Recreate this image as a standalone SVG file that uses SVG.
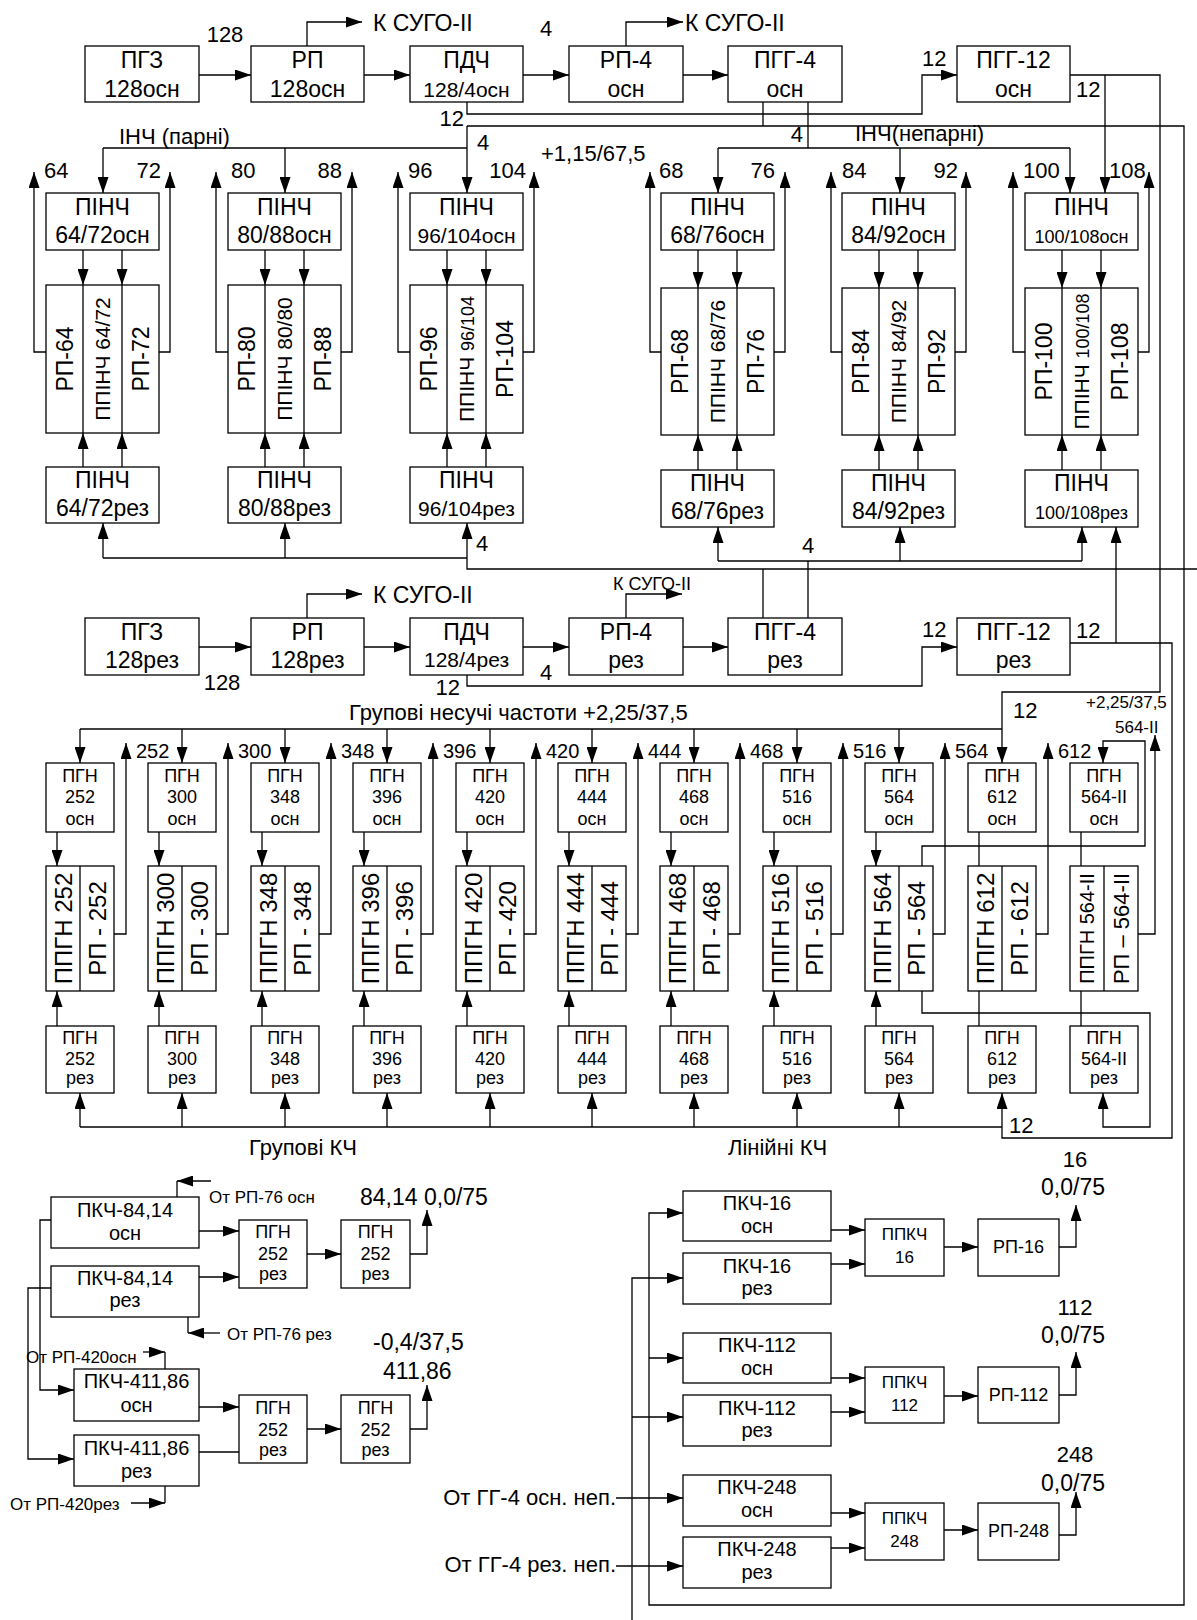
<svg xmlns="http://www.w3.org/2000/svg" width="1197" height="1620" viewBox="0 0 1197 1620">
<defs>
<marker id="ah" markerWidth="16" markerHeight="11" refX="16" refY="5.5" orient="auto" markerUnits="userSpaceOnUse"><path d="M0,0 L16,5.5 L0,11 z" fill="#000"/></marker>
<style>
.b{fill:#fff;stroke:#000;stroke-width:1.3}
.l{fill:none;stroke:#000;stroke-width:1.3}
.l path{fill:none;stroke:#000;stroke-width:1.3}
.a{marker-end:url(#ah)}
text{font-family:"Liberation Sans",Arial,sans-serif;fill:#000}
.m{text-anchor:middle}
.e{text-anchor:end}
.f15{font-size:15px}.f17{font-size:17px}.f18{font-size:18px}.f20{font-size:20px}.f21{font-size:21px}.f22{font-size:22px}.f23{font-size:23px}.f24{font-size:24px}
</style>
</defs>
<rect width="1197" height="1620" fill="#fff"/>

<!-- ===== connectors ===== -->
<g id="connectors" class="l">
<path class="a" d="M199,75H251"/><path class="a" d="M364,75H410"/><path class="a" d="M523,75H569"/><path class="a" d="M683,75H728"/>
<path class="a" d="M307,46V22H362"/><path class="a" d="M626,46V22H683"/>
<path class="a" d="M467,102V114H922V75H957"/>
<path class="a" d="M467,126H1184V1605H649V1213H683"/>
<path d="M763,102V126"/><path d="M808,102V148"/>
<path class="a" d="M467,126V193"/>
<path d="M103,148H467"/><path class="a" d="M103,148V193"/><path class="a" d="M285,148V193"/>
<path d="M718,148H1070"/><path class="a" d="M718,148V193"/><path class="a" d="M900,148V193"/><path class="a" d="M1070,148V193"/>
<path class="a" d="M1070,75H1160V692H1002V763"/>
<path class="a" d="M1105,75V193"/>
<path class="a" d="M83,250V285"/><path class="a" d="M122,250V285"/><path class="a" d="M83,467V433"/><path class="a" d="M122,467V433"/>
<path class="a" d="M46,352H34V172"/><path class="a" d="M159,352H170V172"/>
<path class="a" d="M265,250V285"/><path class="a" d="M304,250V285"/><path class="a" d="M265,467V433"/><path class="a" d="M304,467V433"/>
<path class="a" d="M228,352H216V172"/><path class="a" d="M341,352H352V172"/>
<path class="a" d="M447,250V285"/><path class="a" d="M486,250V285"/><path class="a" d="M447,467V433"/><path class="a" d="M486,467V433"/>
<path class="a" d="M410,352H398V172"/><path class="a" d="M523,352H534V172"/>
<path class="a" d="M698,250V288"/><path class="a" d="M737,250V288"/><path class="a" d="M698,470V435"/><path class="a" d="M737,470V435"/>
<path class="a" d="M661,352H650V172"/><path class="a" d="M774,352H785V172"/>
<path class="a" d="M879,250V288"/><path class="a" d="M918,250V288"/><path class="a" d="M879,470V435"/><path class="a" d="M918,470V435"/>
<path class="a" d="M842,352H831V172"/><path class="a" d="M955,352H966V172"/>
<path class="a" d="M1062,250V288"/><path class="a" d="M1101,250V288"/><path class="a" d="M1062,470V435"/><path class="a" d="M1101,470V435"/>
<path class="a" d="M1025,352H1013V172"/><path class="a" d="M1138,352H1149V172"/>
<path d="M103,558H467"/><path class="a" d="M103,558V523"/><path class="a" d="M285,558V523"/><path class="a" d="M467,558V523"/>
<path d="M467,558V569H1197"/>
<path d="M718,561H1082"/><path class="a" d="M718,561V527"/><path class="a" d="M900,561V527"/><path class="a" d="M1082,561V527"/>
<path d="M808,561V618"/><path d="M763,569V618"/>
<path class="a" d="M1116,643V527"/>
<path class="a" d="M199,647H251"/><path class="a" d="M364,647H410"/><path class="a" d="M523,647H569"/><path class="a" d="M683,647H728"/>
<path class="a" d="M307,618V594H362"/><path class="a" d="M626,618V594H682"/>
<path class="a" d="M467,675V686H922V647H957"/>
<path d="M1070,643H1172V1138H1002V1127"/>
<path d="M80,729H1002"/>
<path class="a" d="M80,729V763"/><path class="a" d="M182,729V763"/><path class="a" d="M285,729V763"/><path class="a" d="M387,729V763"/><path class="a" d="M490,729V763"/><path class="a" d="M592,729V763"/><path class="a" d="M694,729V763"/><path class="a" d="M797,729V763"/><path class="a" d="M899,729V763"/>
<path class="a" d="M57,832V866"/><path class="a" d="M159,832V866"/><path class="a" d="M262,832V866"/><path class="a" d="M364,832V866"/><path class="a" d="M467,832V866"/><path class="a" d="M569,832V866"/><path class="a" d="M671,832V866"/><path class="a" d="M774,832V866"/><path class="a" d="M876,832V866"/>
<path d="M979,832V866"/><path d="M1081,832V866"/>
<path class="a" d="M57,1026V991"/><path class="a" d="M159,1026V991"/><path class="a" d="M262,1026V991"/><path class="a" d="M364,1026V991"/><path class="a" d="M467,1026V991"/><path class="a" d="M569,1026V991"/><path class="a" d="M671,1026V991"/><path class="a" d="M774,1026V991"/><path class="a" d="M876,1026V991"/>
<path d="M979,991V1026"/><path d="M1081,991V1026"/>
<path class="a" d="M114,934H126V743"/><path class="a" d="M216,934H228V743"/><path class="a" d="M319,934H331V743"/><path class="a" d="M421,934H433V743"/><path class="a" d="M524,934H536V743"/><path class="a" d="M626,934H638V743"/><path class="a" d="M728,934H740V743"/><path class="a" d="M831,934H843V743"/><path class="a" d="M933,934H945V743"/><path class="a" d="M1036,934H1048V743"/>
<path class="a" d="M1138,934H1155V735"/>
<path class="a" d="M922,866V846H1145V741H1103V763"/>
<path class="a" d="M922,991V1013H1150V1127H1103V1093"/>
<path d="M80,1127H1002"/>
<path class="a" d="M80,1127V1093"/><path class="a" d="M182,1127V1093"/><path class="a" d="M285,1127V1093"/><path class="a" d="M387,1127V1093"/><path class="a" d="M490,1127V1093"/><path class="a" d="M592,1127V1093"/><path class="a" d="M694,1127V1093"/><path class="a" d="M797,1127V1093"/><path class="a" d="M899,1127V1093"/><path class="a" d="M1002,1127V1093"/>
<path class="a" d="M199,1231H239"/><path class="a" d="M199,1277H239"/><path class="a" d="M307,1254H341"/>
<path class="a" d="M410,1254H427V1210"/>
<path class="a" d="M211,1181H177"/><path d="M177,1181V1197"/>
<path class="a" d="M220,1333H188"/><path d="M188,1317V1333"/>
<path class="a" d="M51,1220H40V1390H74"/>
<path class="a" d="M51,1288H28V1459H74"/>
<path class="a" d="M143,1352H165"/><path d="M165,1352V1369"/>
<path class="a" d="M199,1407H239"/><path d="M199,1452H239"/>
<path class="a" d="M307,1429H341"/>
<path class="a" d="M410,1429H427V1385"/>
<path class="a" d="M131,1503H165"/><path d="M165,1503V1486"/>
<path class="a" d="M649,1358H683"/>
<path class="a" d="M632,1620V1278H683"/><path class="a" d="M632,1417H683"/>
<path class="a" d="M616,1498H683"/><path class="a" d="M616,1566H683"/>
<path class="a" d="M831,1230H865"/><path class="a" d="M831,1264H865"/><path class="a" d="M944,1247H978"/><path class="a" d="M1059,1247H1076V1205"/>
<path class="a" d="M831,1378H865"/><path class="a" d="M831,1412H865"/><path class="a" d="M944,1396H978"/><path class="a" d="M1059,1395H1076V1352"/>
<path class="a" d="M831,1513H865"/><path class="a" d="M831,1548H865"/><path class="a" d="M944,1530H978"/><path class="a" d="M1059,1535H1076V1492"/>
</g>

<!-- ===== labels ===== -->
<g id="labels">
<text class="f23" x="373" y="31">К СУГО-ІІ</text>
<text class="f23" x="685" y="31">К СУГО-ІІ</text>
<text class="m f22" x="225" y="42">128</text>
<text class="m f22" x="546" y="36">4</text>
<text class="e f22" x="464" y="126">12</text>
<text class="f22" x="922" y="66">12</text>
<text class="f22" x="1076" y="97">12</text>
<text class="f22" x="477" y="150">4</text>
<text class="e f22" x="803" y="142">4</text>
<text class="f22" x="119" y="144">ІНЧ (парні)</text>
<text class="f22" x="855" y="141">ІНЧ(непарні)</text>
<text class="f22" x="541" y="161">+1,15/67,5</text>
<text class="f22" x="44" y="178">64</text><text class="e f22" x="161" y="178">72</text>
<text class="f22" x="231" y="178">80</text><text class="e f22" x="342" y="178">88</text>
<text class="f22" x="408" y="178">96</text><text class="e f22" x="526" y="178">104</text>
<text class="f22" x="659" y="178">68</text><text class="e f22" x="775" y="178">76</text>
<text class="f22" x="842" y="178">84</text><text class="e f22" x="958" y="178">92</text>
<text class="f22" x="1023" y="178">100</text><text class="f22" x="1109" y="178">108</text>
<text class="f22" x="476" y="551">4</text>
<text class="f22" x="802" y="553">4</text>
<text class="f23" x="373" y="603">К СУГО-ІІ</text>
<text class="f18" x="613" y="590">К СУГО-ІІ</text>
<text class="m f22" x="222" y="690">128</text>
<text class="m f22" x="546" y="680">4</text>
<text class="e f22" x="460" y="695">12</text>
<text class="f22" x="922" y="637">12</text>
<text class="f22" x="1076" y="638">12</text>
<text class="f22" x="349" y="720">Групові несучі частоти +2,25/37,5</text>
<text class="f22" x="1013" y="718">12</text>
<text class="f17" x="1086" y="708">+2,25/37,5</text>
<text class="f17" x="1115" y="733">564-ІІ</text>
<text class="f20" x="136" y="758">252</text><text class="f20" x="238" y="758">300</text><text class="f20" x="341" y="758">348</text><text class="f20" x="443" y="758">396</text><text class="f20" x="546" y="758">420</text><text class="f20" x="648" y="758">444</text><text class="f20" x="750" y="758">468</text><text class="f20" x="853" y="758">516</text><text class="f20" x="955" y="758">564</text><text class="f20" x="1058" y="758">612</text>
<text class="f22" x="1009" y="1133">12</text>
<text class="f22" x="249" y="1155">Групові КЧ</text>
<text class="f22" x="728" y="1155">Лінійні КЧ</text>
<text class="f23" x="360" y="1205">84,14 0,0/75</text>
<text class="f17" x="209" y="1203">От РП-76 осн</text>
<text class="f17" x="227" y="1340">От РП-76 рез</text>
<text class="f17" x="26" y="1363">От РП-420осн</text>
<text class="f17" x="10" y="1510">От РП-420рез</text>
<text class="f23" x="373" y="1350">-0,4/37,5</text>
<text class="f23" x="383" y="1379">411,86</text>
<text class="m f22" x="1075" y="1167">16</text><text class="m f23" x="1073" y="1195">0,0/75</text>
<text class="m f22" x="1075" y="1315">112</text><text class="m f23" x="1073" y="1343">0,0/75</text>
<text class="m f22" x="1075" y="1462">248</text><text class="m f23" x="1073" y="1491">0,0/75</text>
<text class="e f22" x="616" y="1505">От ГГ-4 осн. неп.</text>
<text class="e f22" x="616" y="1572">От ГГ-4 рез. неп.</text>
</g>

<!-- ===== top row (osn) ===== -->
<g id="pgz-osn"><rect class="b" x="85" y="46" width="114" height="56"/><text class="m f23" x="142" y="68">ПГЗ</text><text class="m f23" x="142" y="97">128осн</text></g>
<g id="rp128-osn"><rect class="b" x="251" y="46" width="113" height="56"/><text class="m f23" x="307.5" y="68">РП</text><text class="m f23" x="307.5" y="97">128осн</text></g>
<g id="pdch-osn"><rect class="b" x="410" y="46" width="113" height="56"/><text class="m f23" x="466.5" y="68">ПДЧ</text><text class="m f21" x="466.5" y="97">128/4осн</text></g>
<g id="rp4-osn"><rect class="b" x="569" y="46" width="114" height="56"/><text class="m f23" x="626" y="68">РП-4</text><text class="m f23" x="626" y="97">осн</text></g>
<g id="pgg4-osn"><rect class="b" x="728" y="46" width="114" height="56"/><text class="m f23" x="785" y="68">ПГГ-4</text><text class="m f23" x="785" y="97">осн</text></g>
<g id="pgg12-osn"><rect class="b" x="957" y="46" width="113" height="56"/><text class="m f23" x="1013.5" y="68">ПГГ-12</text><text class="m f23" x="1013.5" y="97">осн</text></g>

<!-- ===== PINCH even ===== -->
<g id="pinch-64-72-osn"><rect class="b" x="46" y="193" width="113" height="57"/><text class="m f23" x="102.5" y="215">ПІНЧ</text><text class="m f23" x="102.5" y="243">64/72осн</text></g>
<g id="pinch-64-72"><rect class="b" x="46" y="285" width="113" height="148"/><path class="l" d="M83,285V433M122,285V433"/>
<text class="m f23" transform="translate(72.7,359) rotate(-90)">РП-64</text><text class="m f21" transform="translate(110,359) rotate(-90)">ППІНЧ 64/72</text><text class="m f23" transform="translate(148.7,359) rotate(-90)">РП-72</text></g>
<g id="pinch-64-72-rez"><rect class="b" x="46" y="467" width="113" height="56"/><text class="m f23" x="102.5" y="488">ПІНЧ</text><text class="m f23" x="102.5" y="516">64/72рез</text></g>

<g id="pinch-80-88-osn"><rect class="b" x="228" y="193" width="113" height="57"/><text class="m f23" x="284.5" y="215">ПІНЧ</text><text class="m f23" x="284.5" y="243">80/88осн</text></g>
<g id="pinch-80-88"><rect class="b" x="228" y="285" width="113" height="148"/><path class="l" d="M265,285V433M304,285V433"/>
<text class="m f23" transform="translate(254.7,359) rotate(-90)">РП-80</text><text class="m f21" transform="translate(292,359) rotate(-90)">ППІНЧ 80/80</text><text class="m f23" transform="translate(330.7,359) rotate(-90)">РП-88</text></g>
<g id="pinch-80-88-rez"><rect class="b" x="228" y="467" width="113" height="56"/><text class="m f23" x="284.5" y="488">ПІНЧ</text><text class="m f23" x="284.5" y="516">80/88рез</text></g>

<g id="pinch-96-104-osn"><rect class="b" x="410" y="193" width="113" height="57"/><text class="m f23" x="466.5" y="215">ПІНЧ</text><text class="m f21" x="466.5" y="243">96/104осн</text></g>
<g id="pinch-96-104"><rect class="b" x="410" y="285" width="113" height="148"/><path class="l" d="M447,285V433M486,285V433"/>
<text class="m f23" transform="translate(436.7,359) rotate(-90)">РП-96</text><text class="m f21" transform="translate(474,359) rotate(-90)">ППІНЧ <tspan class="f18">96/104</tspan></text><text class="m f23" transform="translate(512.7,359) rotate(-90)">РП-104</text></g>
<g id="pinch-96-104-rez"><rect class="b" x="410" y="467" width="113" height="56"/><text class="m f23" x="466.5" y="488">ПІНЧ</text><text class="m f21" x="466.5" y="516">96/104рез</text></g>

<!-- ===== PINCH odd ===== -->
<g id="pinch-68-76-osn"><rect class="b" x="661" y="193" width="113" height="57"/><text class="m f23" x="717.5" y="215">ПІНЧ</text><text class="m f23" x="717.5" y="243">68/76осн</text></g>
<g id="pinch-68-76"><rect class="b" x="661" y="288" width="113" height="147"/><path class="l" d="M698,288V435M737,288V435"/>
<text class="m f23" transform="translate(688,361.5) rotate(-90)">РП-68</text><text class="m f21" transform="translate(725,361.5) rotate(-90)">ППІНЧ 68/76</text><text class="m f23" transform="translate(764,361.5) rotate(-90)">РП-76</text></g>
<g id="pinch-68-76-rez"><rect class="b" x="661" y="470" width="113" height="57"/><text class="m f23" x="717.5" y="491">ПІНЧ</text><text class="m f23" x="717.5" y="519">68/76рез</text></g>

<g id="pinch-84-92-osn"><rect class="b" x="842" y="193" width="113" height="57"/><text class="m f23" x="898.5" y="215">ПІНЧ</text><text class="m f23" x="898.5" y="243">84/92осн</text></g>
<g id="pinch-84-92"><rect class="b" x="842" y="288" width="113" height="147"/><path class="l" d="M879,288V435M918,288V435"/>
<text class="m f23" transform="translate(869,361.5) rotate(-90)">РП-84</text><text class="m f21" transform="translate(906,361.5) rotate(-90)">ППІНЧ 84/92</text><text class="m f23" transform="translate(945,361.5) rotate(-90)">РП-92</text></g>
<g id="pinch-84-92-rez"><rect class="b" x="842" y="470" width="113" height="57"/><text class="m f23" x="898.5" y="491">ПІНЧ</text><text class="m f23" x="898.5" y="519">84/92рез</text></g>

<g id="pinch-100-108-osn"><rect class="b" x="1025" y="193" width="113" height="57"/><text class="m f23" x="1081.5" y="215">ПІНЧ</text><text class="m f18" x="1081.5" y="243">100/108осн</text></g>
<g id="pinch-100-108"><rect class="b" x="1025" y="288" width="113" height="147"/><path class="l" d="M1062,288V435M1101,288V435"/>
<text class="m f23" transform="translate(1052,361.5) rotate(-90)">РП-100</text><text class="m f21" transform="translate(1089,361.5) rotate(-90)">ППІНЧ <tspan class="f18">100/108</tspan></text><text class="m f23" transform="translate(1128,361.5) rotate(-90)">РП-108</text></g>
<g id="pinch-100-108-rez"><rect class="b" x="1025" y="470" width="113" height="57"/><text class="m f23" x="1081.5" y="491">ПІНЧ</text><text class="m f18" x="1081.5" y="519">100/108рез</text></g>

<!-- ===== reserve row ===== -->
<g id="pgz-rez"><rect class="b" x="85" y="618" width="114" height="57"/><text class="m f23" x="142" y="640">ПГЗ</text><text class="m f23" x="142" y="668">128рез</text></g>
<g id="rp128-rez"><rect class="b" x="251" y="618" width="113" height="57"/><text class="m f23" x="307.5" y="640">РП</text><text class="m f23" x="307.5" y="668">128рез</text></g>
<g id="pdch-rez"><rect class="b" x="410" y="618" width="113" height="57"/><text class="m f23" x="466.5" y="640">ПДЧ</text><text class="m f21" x="466.5" y="667">128/4рез</text></g>
<g id="rp4-rez"><rect class="b" x="569" y="618" width="114" height="57"/><text class="m f23" x="626" y="640">РП-4</text><text class="m f23" x="626" y="668">рез</text></g>
<g id="pgg4-rez"><rect class="b" x="728" y="618" width="114" height="57"/><text class="m f23" x="785" y="640">ПГГ-4</text><text class="m f23" x="785" y="668">рез</text></g>
<g id="pgg12-rez"><rect class="b" x="957" y="618" width="113" height="57"/><text class="m f23" x="1013.5" y="640">ПГГ-12</text><text class="m f23" x="1013.5" y="668">рез</text></g>

<!-- ===== PGN columns ===== -->
<g id="pgn-252-osn"><rect class="b" x="46" y="763" width="68" height="69"/><text class="m f18" x="80" y="782">ПГН</text><text class="m f18" x="80" y="803">252</text><text class="m f18" x="80" y="825">осн</text></g>
<g id="ppgn-252"><rect class="b" x="46" y="866" width="68" height="125"/><path class="l" d="M80,866V991"/><text class="m f24" transform="translate(71.6,928.5) rotate(-90)">ППГН 252</text><text class="m f24" transform="translate(105.6,928.5) rotate(-90)">РП - 252</text></g>
<g id="pgn-252-rez"><rect class="b" x="46" y="1026" width="68" height="67"/><text class="m f18" x="80" y="1044">ПГН</text><text class="m f18" x="80" y="1065">252</text><text class="m f18" x="80" y="1084">рез</text></g>

<g id="pgn-300-osn"><rect class="b" x="148" y="763" width="68" height="69"/><text class="m f18" x="182" y="782">ПГН</text><text class="m f18" x="182" y="803">300</text><text class="m f18" x="182" y="825">осн</text></g>
<g id="ppgn-300"><rect class="b" x="148" y="866" width="68" height="125"/><path class="l" d="M182,866V991"/><text class="m f24" transform="translate(173.6,928.5) rotate(-90)">ППГН 300</text><text class="m f24" transform="translate(207.6,928.5) rotate(-90)">РП - 300</text></g>
<g id="pgn-300-rez"><rect class="b" x="148" y="1026" width="68" height="67"/><text class="m f18" x="182" y="1044">ПГН</text><text class="m f18" x="182" y="1065">300</text><text class="m f18" x="182" y="1084">рез</text></g>

<g id="pgn-348-osn"><rect class="b" x="251" y="763" width="68" height="69"/><text class="m f18" x="285" y="782">ПГН</text><text class="m f18" x="285" y="803">348</text><text class="m f18" x="285" y="825">осн</text></g>
<g id="ppgn-348"><rect class="b" x="251" y="866" width="68" height="125"/><path class="l" d="M285,866V991"/><text class="m f24" transform="translate(276.6,928.5) rotate(-90)">ППГН 348</text><text class="m f24" transform="translate(310.6,928.5) rotate(-90)">РП - 348</text></g>
<g id="pgn-348-rez"><rect class="b" x="251" y="1026" width="68" height="67"/><text class="m f18" x="285" y="1044">ПГН</text><text class="m f18" x="285" y="1065">348</text><text class="m f18" x="285" y="1084">рез</text></g>

<g id="pgn-396-osn"><rect class="b" x="353" y="763" width="68" height="69"/><text class="m f18" x="387" y="782">ПГН</text><text class="m f18" x="387" y="803">396</text><text class="m f18" x="387" y="825">осн</text></g>
<g id="ppgn-396"><rect class="b" x="353" y="866" width="68" height="125"/><path class="l" d="M387,866V991"/><text class="m f24" transform="translate(378.6,928.5) rotate(-90)">ППГН 396</text><text class="m f24" transform="translate(412.6,928.5) rotate(-90)">РП - 396</text></g>
<g id="pgn-396-rez"><rect class="b" x="353" y="1026" width="68" height="67"/><text class="m f18" x="387" y="1044">ПГН</text><text class="m f18" x="387" y="1065">396</text><text class="m f18" x="387" y="1084">рез</text></g>

<g id="pgn-420-osn"><rect class="b" x="456" y="763" width="68" height="69"/><text class="m f18" x="490" y="782">ПГН</text><text class="m f18" x="490" y="803">420</text><text class="m f18" x="490" y="825">осн</text></g>
<g id="ppgn-420"><rect class="b" x="456" y="866" width="68" height="125"/><path class="l" d="M490,866V991"/><text class="m f24" transform="translate(481.6,928.5) rotate(-90)">ППГН 420</text><text class="m f24" transform="translate(515.6,928.5) rotate(-90)">РП - 420</text></g>
<g id="pgn-420-rez"><rect class="b" x="456" y="1026" width="68" height="67"/><text class="m f18" x="490" y="1044">ПГН</text><text class="m f18" x="490" y="1065">420</text><text class="m f18" x="490" y="1084">рез</text></g>

<g id="pgn-444-osn"><rect class="b" x="558" y="763" width="68" height="69"/><text class="m f18" x="592" y="782">ПГН</text><text class="m f18" x="592" y="803">444</text><text class="m f18" x="592" y="825">осн</text></g>
<g id="ppgn-444"><rect class="b" x="558" y="866" width="68" height="125"/><path class="l" d="M592,866V991"/><text class="m f24" transform="translate(583.6,928.5) rotate(-90)">ППГН 444</text><text class="m f24" transform="translate(617.6,928.5) rotate(-90)">РП - 444</text></g>
<g id="pgn-444-rez"><rect class="b" x="558" y="1026" width="68" height="67"/><text class="m f18" x="592" y="1044">ПГН</text><text class="m f18" x="592" y="1065">444</text><text class="m f18" x="592" y="1084">рез</text></g>

<g id="pgn-468-osn"><rect class="b" x="660" y="763" width="68" height="69"/><text class="m f18" x="694" y="782">ПГН</text><text class="m f18" x="694" y="803">468</text><text class="m f18" x="694" y="825">осн</text></g>
<g id="ppgn-468"><rect class="b" x="660" y="866" width="68" height="125"/><path class="l" d="M694,866V991"/><text class="m f24" transform="translate(685.6,928.5) rotate(-90)">ППГН 468</text><text class="m f24" transform="translate(719.6,928.5) rotate(-90)">РП - 468</text></g>
<g id="pgn-468-rez"><rect class="b" x="660" y="1026" width="68" height="67"/><text class="m f18" x="694" y="1044">ПГН</text><text class="m f18" x="694" y="1065">468</text><text class="m f18" x="694" y="1084">рез</text></g>

<g id="pgn-516-osn"><rect class="b" x="763" y="763" width="68" height="69"/><text class="m f18" x="797" y="782">ПГН</text><text class="m f18" x="797" y="803">516</text><text class="m f18" x="797" y="825">осн</text></g>
<g id="ppgn-516"><rect class="b" x="763" y="866" width="68" height="125"/><path class="l" d="M797,866V991"/><text class="m f24" transform="translate(788.6,928.5) rotate(-90)">ППГН 516</text><text class="m f24" transform="translate(822.6,928.5) rotate(-90)">РП - 516</text></g>
<g id="pgn-516-rez"><rect class="b" x="763" y="1026" width="68" height="67"/><text class="m f18" x="797" y="1044">ПГН</text><text class="m f18" x="797" y="1065">516</text><text class="m f18" x="797" y="1084">рез</text></g>

<g id="pgn-564-osn"><rect class="b" x="865" y="763" width="68" height="69"/><text class="m f18" x="899" y="782">ПГН</text><text class="m f18" x="899" y="803">564</text><text class="m f18" x="899" y="825">осн</text></g>
<g id="ppgn-564"><rect class="b" x="865" y="866" width="68" height="125"/><path class="l" d="M899,866V991"/><text class="m f24" transform="translate(890.6,928.5) rotate(-90)">ППГН 564</text><text class="m f24" transform="translate(924.6,928.5) rotate(-90)">РП - 564</text></g>
<g id="pgn-564-rez"><rect class="b" x="865" y="1026" width="68" height="67"/><text class="m f18" x="899" y="1044">ПГН</text><text class="m f18" x="899" y="1065">564</text><text class="m f18" x="899" y="1084">рез</text></g>

<g id="pgn-612-osn"><rect class="b" x="968" y="763" width="68" height="69"/><text class="m f18" x="1002" y="782">ПГН</text><text class="m f18" x="1002" y="803">612</text><text class="m f18" x="1002" y="825">осн</text></g>
<g id="ppgn-612"><rect class="b" x="968" y="866" width="68" height="125"/><path class="l" d="M1002,866V991"/><text class="m f24" transform="translate(993.6,928.5) rotate(-90)">ППГН 612</text><text class="m f24" transform="translate(1027.6,928.5) rotate(-90)">РП - 612</text></g>
<g id="pgn-612-rez"><rect class="b" x="968" y="1026" width="68" height="67"/><text class="m f18" x="1002" y="1044">ПГН</text><text class="m f18" x="1002" y="1065">612</text><text class="m f18" x="1002" y="1084">рез</text></g>

<g id="pgn-564II-osn"><rect class="b" x="1070" y="763" width="68" height="69"/><text class="m f18" x="1104" y="782">ПГН</text><text class="m f18" x="1104" y="803">564-ІІ</text><text class="m f18" x="1104" y="825">осн</text></g>
<g id="ppgn-564II"><rect class="b" x="1070" y="866" width="68" height="125"/><path class="l" d="M1104,866V991"/><text class="m f20" transform="translate(1094.2,928.5) rotate(-90)">ППГН 564-ІІ</text><text class="m f22" transform="translate(1129,928.5) rotate(-90)">РП – 564-ІІ</text></g>
<g id="pgn-564II-rez"><rect class="b" x="1070" y="1026" width="68" height="67"/><text class="m f18" x="1104" y="1044">ПГН</text><text class="m f18" x="1104" y="1065">564-ІІ</text><text class="m f18" x="1104" y="1084">рез</text></g>

<!-- ===== bottom left ===== -->
<g id="pkch-8414-osn"><rect class="b" x="51" y="1197" width="148" height="51"/><text class="m f20" x="125" y="1217">ПКЧ-84,14</text><text class="m f20" x="125" y="1240">осн</text></g>
<g id="pkch-8414-rez"><rect class="b" x="51" y="1266" width="148" height="51"/><text class="m f20" x="125" y="1285">ПКЧ-84,14</text><text class="m f20" x="125" y="1307">рез</text></g>
<g id="pgn-252-rez-a"><rect class="b" x="239" y="1220" width="68" height="68"/><text class="m f18" x="273" y="1238">ПГН</text><text class="m f18" x="273" y="1260">252</text><text class="m f18" x="273" y="1280">рез</text></g>
<g id="pgn-252-rez-b"><rect class="b" x="341" y="1220" width="69" height="68"/><text class="m f18" x="375.5" y="1238">ПГН</text><text class="m f18" x="375.5" y="1260">252</text><text class="m f18" x="375.5" y="1280">рез</text></g>
<g id="pkch-41186-osn"><rect class="b" x="74" y="1369" width="125" height="52"/><text class="m f20" x="136.5" y="1388">ПКЧ-411,86</text><text class="m f20" x="136.5" y="1412">осн</text></g>
<g id="pkch-41186-rez"><rect class="b" x="74" y="1435" width="125" height="51"/><text class="m f20" x="136.5" y="1455">ПКЧ-411,86</text><text class="m f20" x="136.5" y="1478">рез</text></g>
<g id="pgn-252-rez-c"><rect class="b" x="239" y="1395" width="68" height="68"/><text class="m f18" x="273" y="1414">ПГН</text><text class="m f18" x="273" y="1436">252</text><text class="m f18" x="273" y="1456">рез</text></g>
<g id="pgn-252-rez-d"><rect class="b" x="341" y="1395" width="69" height="68"/><text class="m f18" x="375.5" y="1414">ПГН</text><text class="m f18" x="375.5" y="1436">252</text><text class="m f18" x="375.5" y="1456">рез</text></g>

<!-- ===== bottom right ===== -->
<g id="pkch-16-osn"><rect class="b" x="683" y="1191" width="148" height="50"/><text class="m f20" x="757" y="1210">ПКЧ-16</text><text class="m f20" x="757" y="1233">осн</text></g>
<g id="pkch-16-rez"><rect class="b" x="683" y="1253" width="148" height="51"/><text class="m f20" x="757" y="1273">ПКЧ-16</text><text class="m f20" x="757" y="1295">рез</text></g>
<g id="ppkch-16"><rect class="b" x="865" y="1219" width="79" height="57"/><text class="m f17" x="904.5" y="1240">ППКЧ</text><text class="m f17" x="904.5" y="1263">16</text></g>
<g id="rp-16"><rect class="b" x="978" y="1219" width="81" height="57"/><text class="m f18" x="1018.5" y="1253">РП-16</text></g>

<g id="pkch-112-osn"><rect class="b" x="683" y="1333" width="148" height="50"/><text class="m f20" x="757" y="1352">ПКЧ-112</text><text class="m f20" x="757" y="1375">осн</text></g>
<g id="pkch-112-rez"><rect class="b" x="683" y="1395" width="148" height="51"/><text class="m f20" x="757" y="1415">ПКЧ-112</text><text class="m f20" x="757" y="1437">рез</text></g>
<g id="ppkch-112"><rect class="b" x="865" y="1367" width="79" height="56"/><text class="m f17" x="904.5" y="1388">ППКЧ</text><text class="m f17" x="904.5" y="1411">112</text></g>
<g id="rp-112"><rect class="b" x="978" y="1367" width="81" height="56"/><text class="m f18" x="1018.5" y="1401">РП-112</text></g>

<g id="pkch-248-osn"><rect class="b" x="683" y="1475" width="148" height="51"/><text class="m f20" x="757" y="1494">ПКЧ-248</text><text class="m f20" x="757" y="1517">осн</text></g>
<g id="pkch-248-rez"><rect class="b" x="683" y="1537" width="148" height="51"/><text class="m f20" x="757" y="1556">ПКЧ-248</text><text class="m f20" x="757" y="1579">рез</text></g>
<g id="ppkch-248"><rect class="b" x="865" y="1503" width="79" height="57"/><text class="m f17" x="904.5" y="1524">ППКЧ</text><text class="m f17" x="904.5" y="1547">248</text></g>
<g id="rp-248"><rect class="b" x="978" y="1503" width="81" height="57"/><text class="m f18" x="1018.5" y="1537">РП-248</text></g>
</svg>
